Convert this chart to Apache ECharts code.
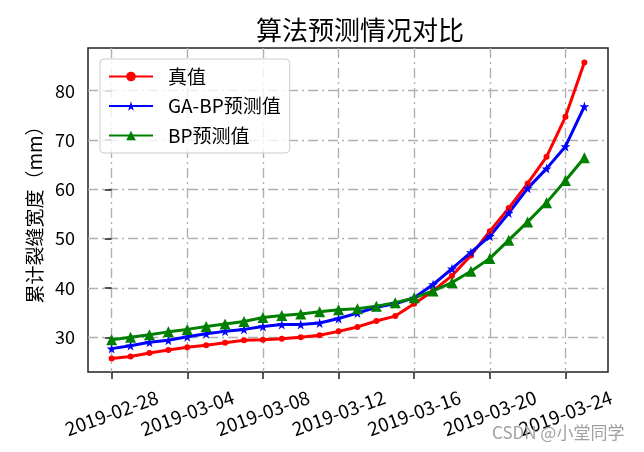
<!DOCTYPE html>
<html><head><meta charset="utf-8">
<script src="https://cdn.jsdelivr.net/npm/echarts@6/dist/echarts.min.js"></script>
<style>html,body{margin:0;padding:0;background:#fff}#c{width:644px;height:452px}</style>
</head><body><div id="c"></div>
<script>
const dates = ['2019-02-28','2019-03-01','2019-03-02','2019-03-03','2019-03-04','2019-03-05','2019-03-06','2019-03-07','2019-03-08','2019-03-09','2019-03-10','2019-03-11','2019-03-12','2019-03-13','2019-03-14','2019-03-15','2019-03-16','2019-03-17','2019-03-18','2019-03-19','2019-03-20','2019-03-21','2019-03-22','2019-03-23','2019-03-24','2019-03-25'];
const trueVals = [25.7,26.1,26.8,27.4,28.0,28.4,28.9,29.4,29.5,29.7,30.0,30.4,31.2,32.1,33.3,34.3,36.8,39.4,42.5,46.6,51.5,56.2,61.2,66.6,74.7,85.7];
const gabpVals = [27.7,28.3,29.0,29.4,30.1,30.7,31.2,31.6,32.2,32.6,32.6,32.9,33.8,34.9,36.1,36.8,38.0,40.7,43.9,47.2,50.5,55.2,60.2,64.2,68.7,76.8];
const bpVals = [29.5,30.0,30.5,31.1,31.6,32.2,32.7,33.2,34.0,34.4,34.7,35.2,35.6,35.8,36.3,37.0,38.0,39.4,41.1,43.4,46.0,49.7,53.4,57.3,61.8,66.4];
const xTicks = [0,4,8,12,16,20,24];
const yTicks = [30,40,50,60,70,80];
const seriesNames = ['真值','GA-BP预测值','BP预测值'];

const font = '"Noto Sans CJK SC", sans-serif';
const star = 'path://M50,0 L61,35 L98,35 L68,57 L79,91 L50,70 L21,91 L32,57 L2,35 L39,35 Z';
const toPairs = arr => arr.map((v,i)=>[i,v]);
const mkGrid = () => ({show:true, lineStyle:{color:'#b0b0b0', width:1.4, type:[10,4,2,4]}});

const chart = echarts.init(document.getElementById('c'));
chart.setOption({
  animation:false,
  backgroundColor:'#fff',
  title:{text:'算法预测情况对比', left:355, top:12, textAlign:'center',
    textStyle:{fontFamily:font, fontSize:26, fontWeight:'normal', color:'#000'}},
  grid:{left:88, right:36, top:48, bottom:80, show:true, borderColor:'#222', borderWidth:1.5, backgroundColor:'transparent'},
  legend:{
    left:100, top:59, orient:'vertical', itemWidth:44, itemHeight:12, itemGap:10.5,
    padding:[8,9,8,8],
    borderColor:'#cccccc', borderWidth:1, borderRadius:4, backgroundColor:'rgba(255,255,255,0.8)',
    textStyle:{fontFamily:font, fontSize:19, color:'#000', padding:[0,0,0,10]},
    data:seriesNames
  },
  xAxis:{
    type:'value', min:-1.25, max:26.25,
    axisLine:{show:false},
    axisTick:{show:true, length:7, lineStyle:{color:'#222', width:1.5}, customValues:xTicks},
    axisLabel:{customValues:xTicks, rotate:20, align:'center', verticalAlign:'middle',
      fontFamily:font, fontSize:19, color:'#000', margin:41,
      formatter:v=>dates[Math.round(v)]},
    splitLine:mkGrid()
  },
  yAxis:{
    type:'value', min:22.96, max:88.66,
    name:'累计裂缝宽度（mm）', nameLocation:'middle', nameGap:41, nameRotate:90,
    nameTextStyle:{fontFamily:font, fontSize:19, color:'#000'},
    axisLine:{show:false},
    axisTick:{show:true, length:7, lineStyle:{color:'#222', width:1.5}, customValues:yTicks},
    axisLabel:{customValues:yTicks, fontFamily:font, fontSize:18, color:'#000', margin:13},
    splitLine:mkGrid()
  },
  series:[
    {name:seriesNames[0], type:'line', data:toPairs(trueVals), symbol:'circle', symbolSize:6,
      lineStyle:{color:'#ff0000', width:3}, itemStyle:{color:'#ff0000'}},
    {name:seriesNames[1], type:'line', data:toPairs(gabpVals), symbol:star, symbolSize:10,
      lineStyle:{color:'#0000ff', width:3}, itemStyle:{color:'#0000ff'}},
    {name:seriesNames[2], type:'line', data:toPairs(bpVals), symbol:'triangle', symbolSize:11,
      lineStyle:{color:'#008000', width:3}, itemStyle:{color:'#008000'}}
  ],
  graphic:[{type:'text', left:492, top:424, z:100, style:{text:'CSDN @小堂同学', fontFamily:font, fontSize:17, fill:'#a0a0a0'}}]
});
</script></body></html>
